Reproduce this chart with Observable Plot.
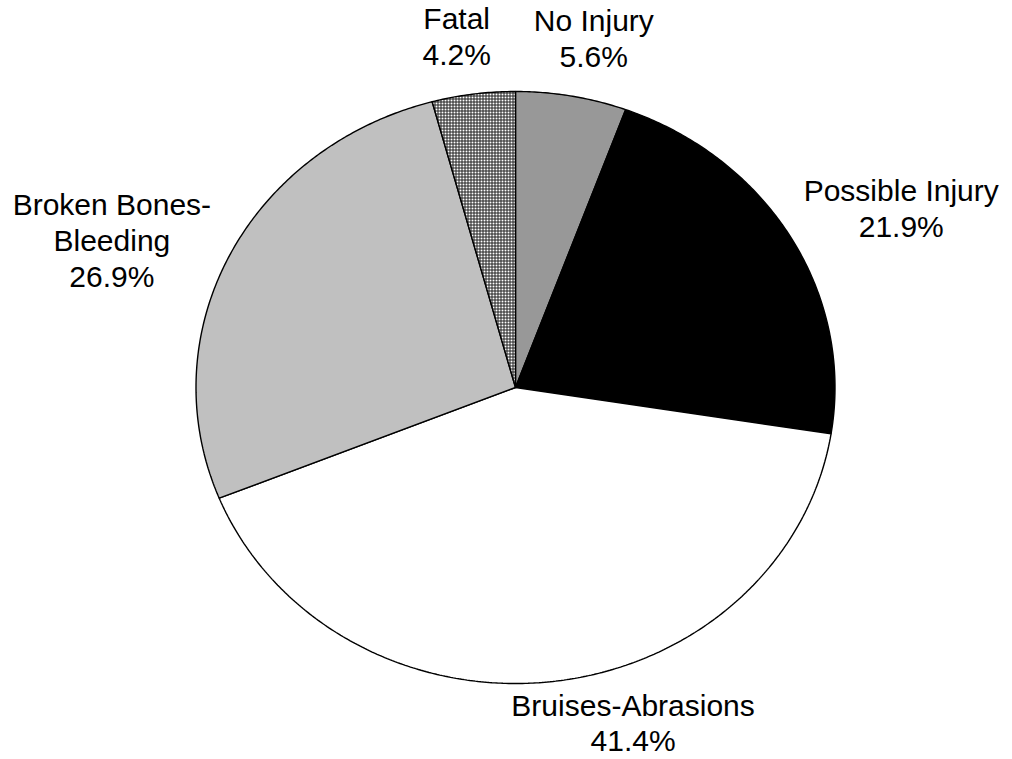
<!DOCTYPE html>
<html>
<head>
<meta charset="utf-8">
<script src="https://cdn.jsdelivr.net/npm/d3@7"></script>
<script src="https://cdn.jsdelivr.net/npm/@observablehq/plot@0.6"></script>
<style>
  html, body { margin: 0; padding: 0; background: #fff; }
  #chart svg { display: block; }
</style>
</head>
<body>
<div id="chart"></div>
<script>
// ---- data (clockwise from 12 o'clock) ----
const categories = ["No Injury", "Possible Injury", "Bruises-Abrasions", "Broken Bones-Bleeding", "Fatal"];
const percents   = [5.6, 21.9, 41.4, 26.9, 4.2];
const labelLines = ["No Injury", "Possible Injury", "Bruises-Abrasions", "Broken Bones-\nBleeding", "Fatal"];

// ---- styling ----
const fills = ["url(#pCheck)", "#000000", "#ffffff", "#c0c0c0", "url(#pGrid)"];
const W = 1012, H = 759;
const cx = 515, cy = 387, rx = 319.5, ry = 296;

const total = d3.sum(percents);
let acc = 0;
const slices = categories.map((name, i) => {
  const a0 = acc / total * 2 * Math.PI;
  acc += percents[i];
  const a1 = acc / total * 2 * Math.PI;
  return {name, value: percents[i], a0, a1, fill: fills[i], label: `${labelLines[i]}\n${percents[i].toFixed(1)}%`};
});

function slicePoints(s) {
  const pts = [{x: 0, y: 0}];
  const n = Math.max(2, Math.ceil((s.a1 - s.a0) / (Math.PI / 360)));
  for (let k = 0; k <= n; k++) {
    const a = s.a0 + (s.a1 - s.a0) * k / n;
    pts.push({x: Math.sin(a), y: Math.cos(a)});
  }
  return pts;
}

// label placement: along mid-angle, pushed outward; kept inside frame
const nudge = {"Bruises-Abrasions": [0.21, 0], "Broken Bones-Bleeding": [-0.01, -0.035]};
const labels = slices.map(s => {
  const m = (s.a0 + s.a1) / 2;
  let x = Math.sin(m) * 1.4, y = Math.cos(m) * 1.2;
  y = Math.max(y, -1.13);
  const n = nudge[s.name] || [0, 0];
  return {x: x + n[0], y: y + n[1], text: s.label};
});

const plot = Plot.plot({
  width: W,
  height: H,
  margin: 0,
  style: {background: "#ffffff", fontFamily: "'Liberation Sans', Arial, sans-serif"},
  x: {domain: [-1, 1], range: [cx - rx, cx + rx], axis: null},
  y: {domain: [-1, 1], range: [cy + ry, cy - ry], axis: null},
  marks: [
    ...slices.map(s => Plot.line(slicePoints(s), {
      x: "x", y: "y", curve: "linear-closed",
      fill: s.fill, stroke: "#000", strokeWidth: 1.4, strokeLinejoin: "miter"
    })),
    Plot.text(labels, {
      x: "x", y: "y", text: "text",
      fontSize: 30, lineHeight: 1.2, fill: "#000",
      textAnchor: "middle", lineAnchor: "middle"
    })
  ]
});

// patterns
const ns = "http://www.w3.org/2000/svg";
const defs = document.createElementNS(ns, "defs");
defs.innerHTML = `
  <pattern id="pCheck" patternUnits="userSpaceOnUse" width="2" height="2">
    <rect width="2" height="2" fill="#ffffff"/>
    <rect x="0" y="0" width="1" height="1" fill="#303030" shape-rendering="crispEdges"/>
    <rect x="1" y="1" width="1" height="1" fill="#303030" shape-rendering="crispEdges"/>
  </pattern>
  <pattern id="pGrid" patternUnits="userSpaceOnUse" width="3" height="3">
    <rect width="3" height="3" fill="#202020"/>
    <rect x="0" y="0" width="2" height="2" fill="#ffffff" shape-rendering="crispEdges"/>
  </pattern>`;
plot.insertBefore(defs, plot.firstChild);

document.getElementById("chart").appendChild(plot);
</script>
</body>
</html>
